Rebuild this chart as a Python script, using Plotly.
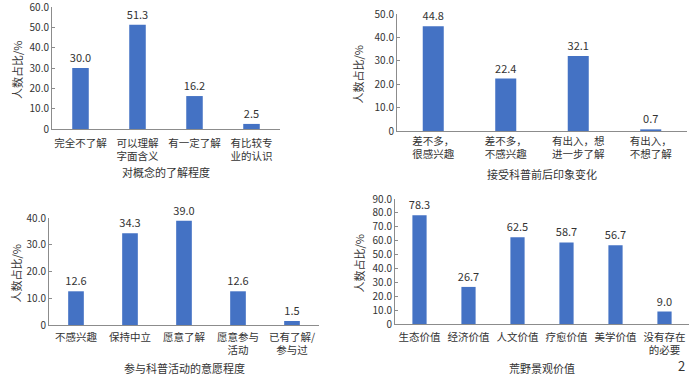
import plotly.graph_objects as go

# Panel 1
cat1 = ["完全不了解", "可以理解<br>字面含义", "有一定了解", "有比较专<br>业的认识"]
val1 = [30.0, 51.3, 16.2, 2.5]
title1 = "对概念的了解程度"
# Panel 2
cat2 = ["差不多，<br>很感兴趣", "差不多，<br>不感兴趣", "有出入，想<br>进一步了解", "有出入，<br>不想了解"]
val2 = [44.8, 22.4, 32.1, 0.7]
title2 = "接受科普前后印象变化"
# Panel 3
cat3 = ["不感兴趣", "保持中立", "愿意了解", "愿意参与<br>活动", "已有了解/<br>参与过"]
val3 = [12.6, 34.3, 39.0, 12.6, 1.5]
title3 = "参与科普活动的意愿程度"
# Panel 4
cat4 = ["生态价值", "经济价值", "人文价值", "疗愈价值", "美学价值", "没有存在<br>的必要"]
val4 = [78.3, 26.7, 62.5, 58.7, 56.7, 9.0]
title4 = "荒野景观价值"

ytitle = "人数占比/%"
yticks1 = [0, 10, 20, 30, 40, 50, 60]
yticks2 = [0, 10, 20, 30, 40, 50]
yticks3 = [0, 10, 20, 30, 40]
yticks4 = [0, 10, 20, 30, 40, 50, 60, 70, 80, 90]

W, H = 700, 376
FONT = "Noto Sans CJK SC"
TXT = "#333333"
BAR = "#4472C4"
AX = "#8c8c8c"

def fx(px):
    return px / W

def fy(py):
    return 1 - py / H

panels = [
    # cats, vals, ticks, x0, x1, ytop, ybot, title, title_y, ytitle_x, label_shift
    (cat1, val1, yticks1, 52, 280, 7, 129, title1, 172, 17, 4),
    (cat2, val2, yticks2, 397, 687, 14, 131, title2, 174, 358, 0),
    (cat3, val3, yticks3, 49, 319, 218, 325, title3, 368, 15, 2),
    (cat4, val4, yticks4, 395, 689, 199, 324, title4, 368, 358, 3),
]

fig = go.Figure()
annotations = []
for i, (cats, vals, ticks, x0, x1, yt, yb, tt, tty, ytx, lsh) in enumerate(panels, start=1):
    xa = "x" if i == 1 else f"x{i}"
    ya = "y" if i == 1 else f"y{i}"
    fig.add_trace(go.Bar(
        x=cats, y=vals, xaxis=xa, yaxis=ya,
        marker=dict(color=BAR, line=dict(width=0)),
        width=0.29,
        text=[f"{v:.1f}" for v in vals], textposition="outside",
        constraintext="none",
        textfont=dict(family=FONT, size=11, color=TXT),
        cliponaxis=False, showlegend=False, hoverinfo="skip",
    ))
    xkey = "xaxis" if i == 1 else f"xaxis{i}"
    ykey = "yaxis" if i == 1 else f"yaxis{i}"
    fig.layout[xkey] = dict(
        domain=[fx(x0), fx(x1)], anchor=ya, showline=True, linecolor=AX, linewidth=1,
        ticks="", showgrid=False, tickfont=dict(family=FONT, size=10.5, color=TXT),
        fixedrange=True, automargin=False, ticklabelstandoff=lsh,
    )
    fig.layout[ykey] = dict(
        domain=[fy(yb), fy(yt)], anchor=xa, range=[0, ticks[-1]],
        tickvals=ticks, ticktext=["0" if t == 0 else f"{t:.1f}" for t in ticks],
        showline=True, linecolor=AX, linewidth=1, ticks="inside", ticklen=3, tickcolor=AX,
        showgrid=False, zeroline=False, tickfont=dict(family=FONT, size=10, color=TXT),
        automargin=False, ticklabeloverflow="allow", fixedrange=True,
    )
    annotations.append(dict(
        text=tt, xref="paper", yref="paper", x=fx((x0 + x1) / 2), y=fy(tty),
        showarrow=False, font=dict(family=FONT, size=11, color=TXT),
        xanchor="center", yanchor="middle",
    ))
    annotations.append(dict(
        text=ytitle, xref="paper", yref="paper", x=fx(ytx), y=fy((yt + yb) / 2 + 2),
        showarrow=False, textangle=-90, font=dict(family=FONT, size=11, color=TXT),
        xanchor="center", yanchor="middle",
    ))

annotations.append(dict(
    text="2", xref="paper", yref="paper", x=fx(681), y=fy(365),
    showarrow=False, font=dict(family=FONT, size=13, color=TXT),
    xanchor="center", yanchor="middle",
))

fig.update_layout(
    width=W, height=H, margin=dict(l=0, r=0, t=0, b=0, autoexpand=False),
    paper_bgcolor="white", plot_bgcolor="white",
    annotations=annotations, bargap=0.7,
    font=dict(family=FONT, size=11, color=TXT),
)

fig.write_html(
    "out.html",
    config={"displayModeBar": False, "staticPlot": True},
    post_script="document.body.style.margin='0';document.body.style.padding='0';document.body.style.overflow='hidden';",
)
